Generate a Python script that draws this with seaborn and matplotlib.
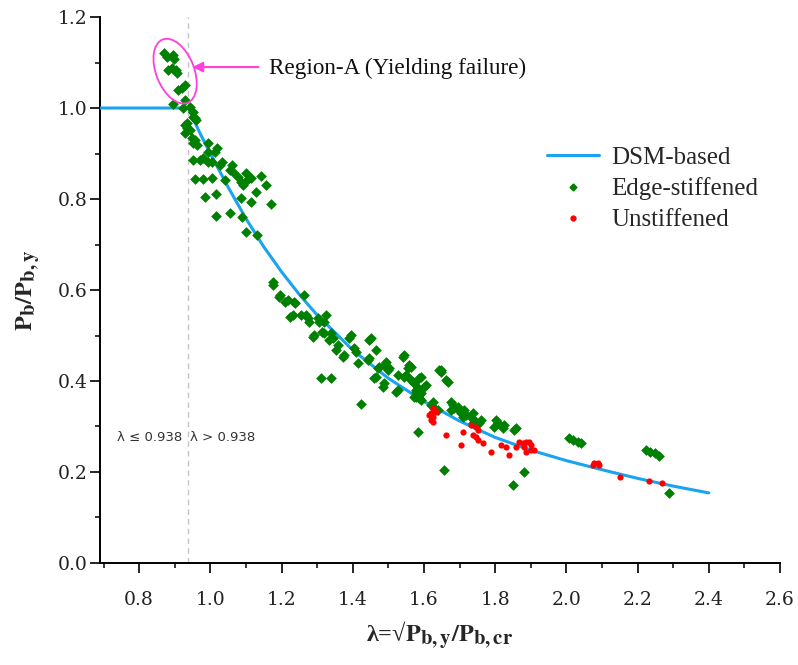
import numpy as np
import pandas as pd
import matplotlib
matplotlib.use("Agg")
import matplotlib.pyplot as plt
import matplotlib.transforms as mtransforms
import matplotlib._mathtext as _mt
from matplotlib.patches import Ellipse
from matplotlib.lines import Line2D
from matplotlib.ticker import MultipleLocator, FormatStrFormatter
import seaborn as sns

# larger subscripts, as in the reference labels
_mt.SHRINK_FACTOR = 0.85

# ---------------- data ----------------
dsm_x = [0.69, 0.938, 0.97, 1.0, 1.05, 1.1, 1.15, 1.2, 1.25, 1.3, 1.4, 1.5,
         1.6, 1.7, 1.8, 1.9, 2.0, 2.1, 2.2, 2.3, 2.4]
dsm_y = [1.0, 1.0, 0.946, 0.900, 0.826, 0.757, 0.695, 0.640, 0.590, 0.545,
         0.468, 0.406, 0.355, 0.312, 0.276, 0.248, 0.225, 0.205, 0.186, 0.169,
         0.154]

edge_x = [0.870, 0.879, 0.896, 0.899, 0.882, 0.893, 0.904, 0.907, 0.910, 0.921,
          0.930, 0.896, 0.930, 0.944, 0.952, 0.961, 0.930, 0.935, 0.944, 0.949,
          0.924, 0.952, 0.958, 0.935, 0.930, 0.952, 0.963, 0.958,
          0.992, 0.994, 1.020, 1.014, 0.952, 0.972, 0.980, 0.992, 1.006,
          1.034, 1.028, 1.062, 1.056, 1.065, 1.099, 1.079, 1.085, 1.093, 1.104,
          1.113, 1.141, 1.155, 0.958, 0.980, 1.006, 1.042, 0.986, 1.017, 1.085,
          1.113, 1.127, 1.169, 1.017, 1.056, 1.090, 1.099, 1.130,
          1.177, 1.175, 1.192, 1.197, 1.211, 1.217, 1.239, 1.234, 1.262, 1.225,
          1.231, 1.254, 1.273, 1.268, 1.276, 1.301, 1.304, 1.324, 1.318, 1.287,
          1.290, 1.315, 1.318, 1.338, 1.344, 1.332, 1.358, 1.352, 1.375, 1.372,
          1.389, 1.394, 1.403, 1.408, 1.445, 1.451, 1.465, 1.445, 1.442, 1.414,
          1.470, 1.473, 1.493, 1.487, 1.499, 1.501, 1.465, 1.459, 1.487, 1.485,
          1.527, 1.544, 1.541, 1.558, 1.563, 1.555, 1.544, 1.549, 1.563, 1.569,
          1.572, 1.592, 1.586, 1.527, 1.521, 1.583, 1.577, 1.592, 1.572, 1.586,
          1.648, 1.662, 1.310, 1.338, 1.423,
          1.577, 1.586, 1.577, 1.592, 1.606, 1.600, 1.642, 1.648, 1.668,
          1.625, 1.620, 1.628, 1.639, 1.583, 1.676, 1.682, 1.676, 1.685, 1.696,
          1.699, 1.704, 1.713, 1.718, 1.710, 1.738, 1.732, 1.741, 1.738, 1.761,
          1.755, 1.803, 1.808, 1.797, 1.825, 1.823, 1.859, 1.854, 1.656, 1.882,
          1.851, 2.008, 2.020, 2.034, 2.042, 2.225, 2.234, 2.248, 2.259, 2.287]
edge_y = [1.121, 1.112, 1.116, 1.108, 1.084, 1.088, 1.084, 1.077, 1.040, 1.044,
          1.051, 1.009, 1.018, 1.002, 0.980, 0.974, 0.963, 0.956, 0.952, 0.934,
          1.000, 0.991, 0.978, 0.967, 0.945, 0.923, 0.919, 0.930,
          0.923, 0.903, 0.912, 0.903, 0.886, 0.886, 0.890, 0.881, 0.881,
          0.881, 0.875, 0.875, 0.864, 0.859, 0.857, 0.848, 0.837, 0.831, 0.842,
          0.846, 0.851, 0.831, 0.844, 0.844, 0.846, 0.842, 0.804, 0.811, 0.802,
          0.793, 0.815, 0.789, 0.763, 0.769, 0.760, 0.727, 0.721,
          0.618, 0.611, 0.585, 0.589, 0.574, 0.578, 0.571, 0.574, 0.589, 0.541,
          0.545, 0.545, 0.538, 0.545, 0.530, 0.538, 0.530, 0.545, 0.530, 0.497,
          0.501, 0.508, 0.505, 0.505, 0.495, 0.490, 0.479, 0.468, 0.457, 0.453,
          0.495, 0.501, 0.473, 0.464, 0.490, 0.495, 0.468, 0.451, 0.446, 0.440,
          0.429, 0.431, 0.442, 0.435, 0.424, 0.429, 0.409, 0.407, 0.396, 0.387,
          0.413, 0.457, 0.453, 0.435, 0.431, 0.429, 0.409, 0.413, 0.402, 0.398,
          0.396, 0.409, 0.407, 0.380, 0.376, 0.385, 0.380, 0.374, 0.365, 0.363,
          0.424, 0.402, 0.407, 0.407, 0.349,
          0.376, 0.369, 0.365, 0.358, 0.391, 0.387, 0.424, 0.420, 0.398,
          0.354, 0.347, 0.341, 0.336, 0.288, 0.354, 0.347, 0.336, 0.341, 0.343,
          0.336, 0.330, 0.336, 0.325, 0.321, 0.330, 0.321, 0.314, 0.308, 0.314,
          0.308, 0.314, 0.308, 0.299, 0.303, 0.297, 0.297, 0.292, 0.204, 0.200,
          0.171, 0.275, 0.270, 0.266, 0.264, 0.248, 0.244, 0.242, 0.235, 0.154]

unst_x = [1.625, 1.628, 1.634, 1.620, 1.614, 1.625, 1.620, 1.625, 1.662, 1.710,
          1.704, 1.732, 1.746, 1.752, 1.738, 1.746, 1.752, 1.766, 1.789, 1.817,
          1.831, 1.839, 1.859, 1.868, 1.879, 1.887, 1.896, 1.901, 1.882, 1.887,
          1.901, 1.910, 2.079, 2.090, 2.093, 2.076, 2.152, 2.231, 2.268]
unst_y = [0.341, 0.336, 0.332, 0.330, 0.325, 0.321, 0.314, 0.310, 0.281, 0.288,
          0.259, 0.303, 0.299, 0.292, 0.281, 0.277, 0.270, 0.264, 0.244, 0.259,
          0.255, 0.237, 0.255, 0.266, 0.264, 0.266, 0.266, 0.259, 0.255, 0.244,
          0.248, 0.248, 0.220, 0.220, 0.215, 0.215, 0.189, 0.180, 0.176]

x_ticks = [0.8, 1.0, 1.2, 1.4, 1.6, 1.8, 2.0, 2.2, 2.4, 2.6]
y_ticks = [0.0, 0.2, 0.4, 0.6, 0.8, 1.0, 1.2]

df_dsm = pd.DataFrame({"x": dsm_x, "y": dsm_y})
df_edge = pd.DataFrame({"x": edge_x, "y": edge_y})
df_unst = pd.DataFrame({"x": unst_x, "y": unst_y})

# ---------------- style ----------------
sns.set_theme(style="ticks")
plt.rcParams["font.family"] = ["Liberation Serif", "DejaVu Serif"]
plt.rcParams["mathtext.fontset"] = "stix"

fig = plt.figure(figsize=(7.98, 6.65), dpi=100)
ax = fig.add_axes([0.1253, 0.1534, 0.8521, 0.8210])

BLUE = "#1aa3f0"
GREEN = "#008000"
RED = "#ff0000"
MAG = "#ff3fdc"

ax.axvline(0.938, color="#c4c4c4", lw=1.0, ls=(0, (4, 3)), zorder=1)

sns.lineplot(data=df_dsm, x="x", y="y", ax=ax, color=BLUE, lw=2.2,
             sort=False, zorder=3, legend=False)
sns.scatterplot(data=df_edge, x="x", y="y", ax=ax, color=GREEN, marker="D",
                s=30, linewidth=0, zorder=4, legend=False)
sns.scatterplot(data=df_unst, x="x", y="y", ax=ax, color=RED, marker="o",
                s=20, linewidth=0, zorder=5, legend=False)

ax.set_xlim(0.69, 2.6)
ax.set_ylim(0.0, 1.2)
ax.set_xticks(x_ticks)
ax.set_yticks(y_ticks)
ax.xaxis.set_minor_locator(MultipleLocator(0.1))
ax.yaxis.set_minor_locator(MultipleLocator(0.1))
ax.xaxis.set_major_formatter(FormatStrFormatter("%.1f"))
ax.yaxis.set_major_formatter(FormatStrFormatter("%.1f"))

for s in ["top", "right"]:
    ax.spines[s].set_visible(False)
for s in ["left", "bottom"]:
    ax.spines[s].set_linewidth(1.4)
    ax.spines[s].set_color("black")
ax.tick_params(which="major", direction="out", length=7, width=1.2,
               colors="black", labelsize=13.5)
ax.tick_params(which="minor", direction="out", length=3.5, width=1.1,
               colors="black")
ax.tick_params(axis="x", which="major", pad=13)
ax.tick_params(axis="y", which="major", pad=2)
for lab in ax.get_xticklabels() + ax.get_yticklabels():
    lab.set_fontfamily(["DejaVu Serif"])
    lab.set_color("#222222")

ax.set_xlabel("λ=√" + r"$\mathbf{P_{b,y}/P_{b,cr}}$", fontsize=17.5,
              fontweight="bold", labelpad=8)
ax.set_ylabel(r"$\mathbf{P_{b}/P_{b,y}}$", fontsize=17.5, labelpad=11)

# threshold texts
ax.text(0.921, 0.275, "λ ≤ 0.938", ha="right", va="center", fontsize=9.5,
        family=["DejaVu Sans"], color="#333333")
ax.text(0.944, 0.275, "λ > 0.938", ha="left", va="center", fontsize=9.5,
        family=["DejaVu Sans"], color="#333333")

# Region-A ellipse (sized in inches, centred in data)
trans = fig.dpi_scale_trans + mtransforms.ScaledTranslation(0.901, 1.081, ax.transData)
ell = Ellipse((0, 0), 0.68, 0.38, angle=111.5, fill=False, edgecolor=MAG,
              lw=1.3, transform=trans, zorder=6, clip_on=False)
ax.add_patch(ell)
ax.annotate("", xy=(0.950, 1.090), xytext=(1.135, 1.090),
            arrowprops=dict(arrowstyle="-|>", color=MAG, lw=1.5,
                            mutation_scale=15, shrinkA=0, shrinkB=0), zorder=6)
ax.text(1.165, 1.088, "Region-A (Yielding failure)", ha="left", va="center",
        fontsize=16.7, color="#111111")

handles = [
    Line2D([0], [0], color=BLUE, lw=2.2),
    Line2D([0], [0], color=GREEN, marker="D", ls="none", markersize=3.5),
    Line2D([0], [0], color=RED, marker="o", ls="none", markersize=3.5),
]
ax.legend(handles, ["DSM-based", "Edge-stiffened", "Unstiffened"],
          loc="upper left", bbox_to_anchor=(0.657, 0.763), frameon=False,
          fontsize=18, handlelength=2.1, handletextpad=0.48, labelspacing=0.34,
          borderpad=0, borderaxespad=0)

fig.savefig("out.png", dpi=100)
